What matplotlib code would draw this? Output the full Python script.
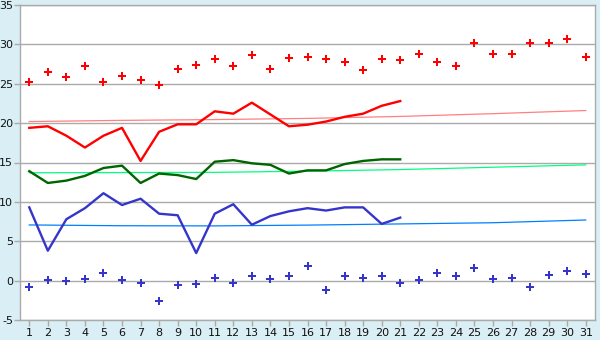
import numpy as np
import matplotlib
matplotlib.use("Agg")
import matplotlib.pyplot as plt

plt.rcParams['axes.unicode_minus'] = False

# ---------------------------------------------------------
# datos
# ---------------------------------------------------------
dias = np.arange(1, 32)

record_max = [25.2, 26.5, 25.9, 27.3, 25.2, 26.0, 25.5, 24.8, 26.9, 27.4,
              28.1, 27.3, 28.7, 26.9, 28.3, 28.4, 28.1, 27.7, 26.8, 28.1,
              28.0, 28.8, 27.7, 27.3, 30.2, 28.8, 28.8, 30.2, 30.2, 30.7,
              28.4]
record_min = [-0.8, 0.1, 0.0, 0.2, 1.0, 0.1, -0.3, -2.6, -0.5, -0.4,
              0.3, -0.3, 0.6, 0.2, 0.6, 1.9, -1.2, 0.6, 0.3, 0.6,
              -0.3, 0.1, 1.0, 0.6, 1.6, 0.2, 0.3, -0.8, 0.7, 1.2,
              0.8]

dias_mes = np.arange(1, 22)
t_max = [19.4, 19.6, 18.4, 16.9, 18.4, 19.4, 15.2, 18.9, 19.85, 19.85,
         21.5, 21.2, 22.6, 21.1, 19.6, 19.8, 20.2, 20.8, 21.2, 22.2, 22.8]
t_med = [13.9, 12.4, 12.7, 13.3, 14.3, 14.6, 12.4, 13.6, 13.4, 12.9,
         15.1, 15.3, 14.9, 14.7, 13.6, 14.0, 14.0, 14.8, 15.2, 15.4, 15.4]
t_min = [9.3, 3.8, 7.8, 9.2, 11.1, 9.6, 10.4, 8.5, 8.3, 3.5,
         8.5, 9.7, 7.1, 8.2, 8.8, 9.2, 8.9, 9.3, 9.3, 7.2, 8.0]

# valores normales (líneas finas)
dias_norm = [1, 6, 11, 16, 21, 26, 31]
norm_max = [20.2, 20.35, 20.45, 20.6, 20.85, 21.2, 21.6]
norm_med = [13.7, 13.72, 13.75, 13.9, 14.1, 14.4, 14.7]
norm_min = [7.07, 6.97, 6.95, 7.05, 7.2, 7.35, 7.7]

# ---------------------------------------------------------
# figura
# ---------------------------------------------------------
fondo = '#DAEFF5'
gris = '#AAAAAA'

fig = plt.figure(figsize=(6, 3.4), dpi=100, facecolor=fondo)
ax = fig.add_axes([20 / 600, 20 / 340, 575 / 600, 315 / 340])
ax.set_facecolor('white')

ax.plot(dias_norm, norm_max, color='#FF8080', lw=0.9, zorder=2)
ax.plot(dias_norm, norm_med, color='#00FF80', lw=0.9, zorder=2)
ax.plot(dias_norm, norm_min, color='#0080FF', lw=0.9, zorder=2)

ax.plot(dias_mes, t_max, color='#FF0000', lw=1.7, zorder=3)
ax.plot(dias_mes, t_med, color='#006400', lw=1.7, zorder=3)
ax.plot(dias_mes, t_min, color='#3535CC', lw=1.7, zorder=3)

ax.plot(dias, record_max, linestyle='none', marker='P', ms=6,
        color='#FF0000', mew=0, zorder=4)
ax.plot(dias, record_min, linestyle='none', marker='P', ms=6,
        color='#3535CC', mew=0, zorder=4)

ax.set_xlim(0.5, 31.5)
ax.set_ylim(-5, 35)
ax.set_xticks(dias)
ax.set_yticks(np.arange(-5, 36, 5))
ax.grid(True, axis='y', color=gris, lw=1)
ax.set_axisbelow(True)

for s in ax.spines.values():
    s.set_color(gris)
    s.set_linewidth(1)

ax.tick_params(axis='both', labelcolor='#111111', labelsize=8, length=4,
               width=1, direction='out', pad=2, color=gris)
ax.tick_params(axis='y', pad=1)

fig.savefig('out.png', dpi=100, facecolor=fondo)
